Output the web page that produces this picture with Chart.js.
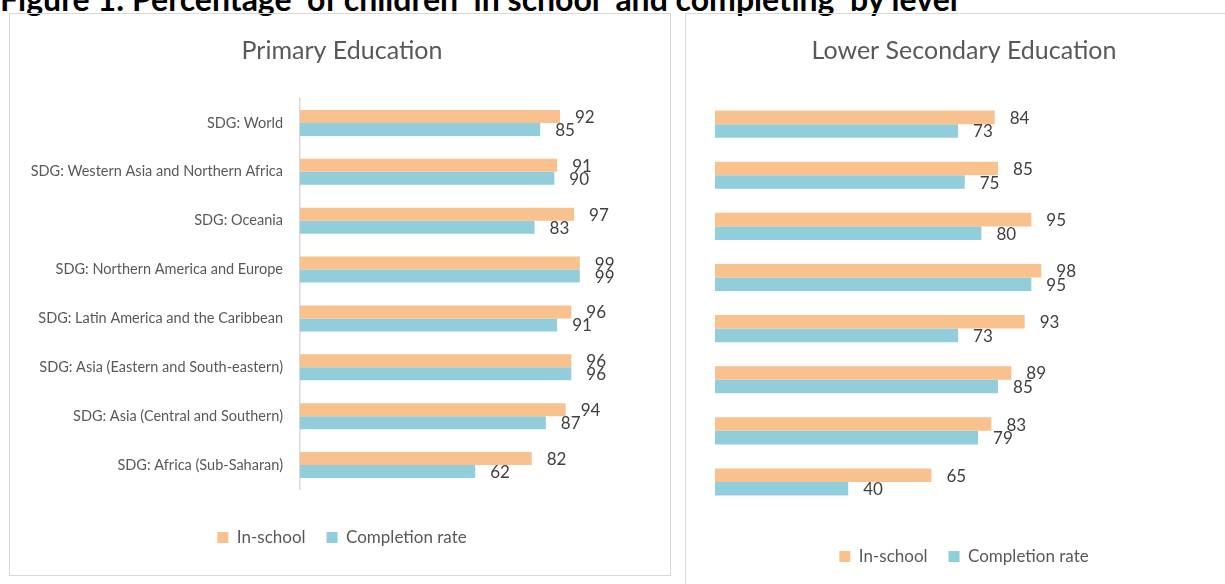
<!DOCTYPE html>
<html>
<head>
<meta charset="utf-8">
<script src="https://cdn.jsdelivr.net/npm/chart.js@4.4.1/dist/chart.umd.min.js"></script>
<style>
  body { margin: 0; width: 1225px; height: 584px; overflow: hidden; background: #fff; position: relative; font-family: Lato, sans-serif; }
  #fig { position: absolute; left: 0; top: -21px; margin: 0; font: bold 32px Lato, sans-serif; color: #000; white-space: pre; }
  .panel { position: absolute; border: 1.5px solid #d9d9d9; box-sizing: border-box; }
  #p1 { left: 9px; top: 13px; width: 662px; height: 563px; }
  #p2 { left: 685px; top: 13px; width: 570px; height: 600px; }
  canvas { position: absolute; }
  #primary { left: 10px; top: 14px; }
  #lower { left: 686px; top: 14px; }
</style>
</head>
<body>
<div id="fig">Figure 1: Percentage  of children  in school  and completing  by level</div>
<div class="panel" id="p1"></div>
<div class="panel" id="p2"></div>
<canvas id="primary" width="670" height="561"></canvas>
<canvas id="lower" width="539" height="570"></canvas>
<script>
const regions = [
  "SDG: World",
  "SDG: Western Asia and Northern Africa",
  "SDG: Oceania",
  "SDG: Northern America and Europe",
  "SDG: Latin America and the Caribbean",
  "SDG: Asia (Eastern and South-eastern)",
  "SDG: Asia (Central and Southern)",
  "SDG: Africa (Sub-Saharan)"
]
const primaryInSchool   = [92, 91, 97, 99, 96, 96, 94, 82]
const primaryCompletion = [85, 90, 83, 99, 91, 96, 87, 62]
const lowerInSchool     = [84, 85, 95, 98, 93, 89, 83, 65]
const lowerCompletion   = [73, 75, 80, 95, 73, 85, 79, 40]

const ORANGE = '#f9c18e'
const BLUE = '#92cddc'

// draws the value next to the end of each bar
const barValues = {
  id: 'barValues',
  afterDatasetsDraw(chart) {
    const ctx = chart.ctx
    ctx.save()
    ctx.font = '17px Lato, sans-serif'
    ctx.fillStyle = '#404040'
    ctx.textAlign = 'left'
    ctx.textBaseline = 'middle'
    chart.data.datasets.forEach((ds, i) => {
      chart.getDatasetMeta(i).data.forEach((bar, j) => {
        ctx.fillText(ds.data[j], bar.x + 15, bar.y + 1)
      })
    })
    ctx.restore()
  }
}

function makeChart(id, title, inSchool, completion, o) {
  return new Chart(id, {
    type: 'bar',
    data: {
      labels: regions,
      datasets: [
        { label: 'In-school', data: inSchool, backgroundColor: ORANGE },
        { label: 'Completion rate', data: completion, backgroundColor: BLUE }
      ]
    },
    plugins: [barValues],
    options: {
      indexAxis: 'y',
      responsive: false,
      animation: false,
      layout: { padding: o.padding },
      datasets: { bar: { barPercentage: 1, categoryPercentage: 0.53 } },
      scales: {
        x: {
          min: 0, max: 100,
          grid: { display: false },
          border: { display: false },
          ticks: { display: false },
          afterFit: s => { s.height = o.xh }
        },
        y: {
          display: o.showLabels,
          grid: { display: false, drawTicks: false },
          border: { color: '#d9d9d9', width: 1.5 },
          ticks: { color: '#595959', font: { size: 14.5, family: 'Lato' }, padding: 17 },
          afterFit: s => { s.width = o.yw }
        },
        // empty space on the right, keeps title and legend centred like the original
        yRight: {
          type: 'category',
          position: 'right',
          grid: { display: false, drawTicks: false },
          border: { display: false },
          ticks: { display: false },
          afterFit: s => { s.width = o.rightSpace }
        }
      },
      plugins: {
        tooltip: { enabled: false },
        title: {
          display: true,
          text: title,
          color: '#595959',
          font: { size: 25, weight: 'normal', family: 'Lato' },
          padding: o.titlePad
        },
        legend: {
          position: 'bottom',
          labels: {
            boxWidth: 11, boxHeight: 11, padding: 21,
            color: '#595959',
            font: { size: 17, family: 'Lato' }
          }
        }
      }
    }
  })
}

makeChart('primary', 'Primary Education', primaryInSchool, primaryCompletion, {
  padding: { left: 0, right: 6, top: 0, bottom: 19 },
  titlePad: { top: 21.5, bottom: 33 },
  xh: 18.5, yw: 290, rightSpace: 91.4, showLabels: true
})
makeChart('lower', 'Lower Secondary Education', lowerInSchool, lowerCompletion, {
  padding: { left: 29, right: 12, top: 0, bottom: 9 },
  titlePad: { top: 21.5, bottom: 33.1 },
  xh: 19.5, yw: 0, rightSpace: 165, showLabels: false
})
</script>
</body>
</html>
